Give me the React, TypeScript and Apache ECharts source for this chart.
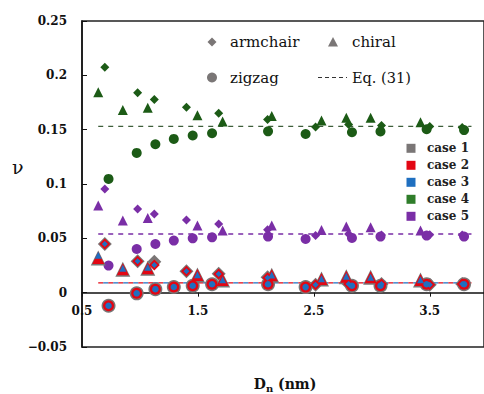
import React, { useEffect, useRef } from "react";
import * as echarts from "echarts";

// Diameters (nm) per structure type
const armchairD = [0.697, 0.98, 1.124, 1.401, 1.679, 2.101, 2.515, 2.8, 3.084, 3.5, 3.78];
const chiralD = [0.64, 0.852, 1.067, 1.496, 1.713, 2.137, 2.566, 2.78, 2.99, 3.42];
const zigzagD = [0.729, 0.972, 1.133, 1.292, 1.455, 1.622, 2.105, 2.429, 2.829, 3.075, 3.473, 3.796];

// Poisson's ratio values per case
const case1Armchair = [0.0448, 0.029, 0.0285, 0.0196, 0.0175, 0.0141, 0.0074, 0.008, 0.008, 0.0074, 0.008];
const case2Armchair = [0.0448, 0.0288, 0.0255, 0.0196, 0.0172, 0.0138, 0.0074, 0.008, 0.008, 0.0074, 0.008];
const case3Armchair = [0.0448, 0.0288, 0.0255, 0.0196, 0.0172, 0.0138, 0.0074, 0.008, 0.008, 0.0074, 0.008];
const case4Armchair = [0.2075, 0.1839, 0.1777, 0.1706, 0.1651, 0.1593, 0.1524, 0.1547, 0.1538, 0.1529, 0.152];
const case5Armchair = [0.0955, 0.0771, 0.0725, 0.0669, 0.0633, 0.058, 0.0525, 0.054, 0.053, 0.0534, 0.053];

const case1Chiral = [0.032, 0.0215, 0.0225, 0.0163, 0.0117, 0.016, 0.0126, 0.0147, 0.0141, 0.0117];
const case2Chiral = [0.032, 0.0215, 0.0225, 0.0163, 0.0117, 0.016, 0.0126, 0.0147, 0.0141, 0.0117];
const case3Chiral = [0.0345, 0.0225, 0.0235, 0.0166, 0.012, 0.0163, 0.0128, 0.015, 0.0143, 0.012];
const case4Chiral = [0.1844, 0.1682, 0.1701, 0.1633, 0.1575, 0.1625, 0.1584, 0.1609, 0.1609, 0.1568];
const case5Chiral = [0.0801, 0.0663, 0.0688, 0.0617, 0.0571, 0.0617, 0.0577, 0.0608, 0.0601, 0.0571];

const case1Zigzag = [-0.012, -0.0006, 0.0032, 0.0052, 0.0064, 0.0078, 0.0078, 0.0051, 0.0064, 0.0064, 0.0078, 0.0078];
const case2Zigzag = [-0.012, -0.0006, 0.0032, 0.0052, 0.0064, 0.0078, 0.0078, 0.0051, 0.0064, 0.0064, 0.0078, 0.0078];
const case3Zigzag = [-0.012, -0.0006, 0.0032, 0.0052, 0.0064, 0.0078, 0.0078, 0.0051, 0.0064, 0.0064, 0.0078, 0.0078];
const case4Zigzag = [0.1047, 0.1286, 0.1366, 0.1415, 0.1446, 0.1467, 0.1485, 0.146, 0.1476, 0.1483, 0.1504, 0.1496];
const case5Zigzag = [0.0249, 0.0402, 0.0448, 0.0479, 0.05, 0.0509, 0.0516, 0.0494, 0.0504, 0.0516, 0.0525, 0.0516];

// Eq. (31) levels
const eqRange = [0.64, 3.86];
const eqCase4 = 0.153;
const eqCase5 = 0.054;
const eqCase123 = 0.009;

const caseNames = ["case 1", "case 2", "case 3", "case 4", "case 5"];
const yTicks = { min: -0.05, max: 0.25, interval: 0.05 };

const GRAY = "#7a7676";
const RED = "#e30613";
const BLUE = "#1f6fc0";
const GREEN = "#1c5b16";
const GREEN_LEG = "#2f7d2a";
const PURPLE = "#7a2ea6";
const SERIF = "DejaVu Serif";

const GRID = { left: 82, top: 21, right: -2, bottom: 47 };

const zip = (xs: number[], ys: number[]) => xs.map((x, i) => [x, ys[i]]);

function scatter(name: string, xs: number[], ys: number[], symbol: string, size: number, color: string, z: number) {
  return {
    name,
    type: "scatter",
    data: zip(xs, ys),
    symbol,
    symbolSize: size,
    itemStyle: { color, opacity: 1 },
    z,
    silent: true,
  };
}

function eqLine(v: number, color: string, dashOffset = 0) {
  return {
    type: "line",
    data: [[eqRange[0], v], [eqRange[1], v]],
    symbol: "none",
    lineStyle: { color, width: 1.3, type: [5, 5], dashOffset },
    z: 1,
    silent: true,
  };
}

const txt = (text: string, x: number, y: number, size: number, weight = "normal", fill = "#111") => ({
  type: "text",
  x,
  y,
  style: { text, fontFamily: SERIF, fontSize: size, fontWeight: weight, fill, verticalAlign: "middle" },
});

export default function App() {
  const ref = useRef<HTMLDivElement>(null);
  useEffect(() => {
    if (!ref.current) return;
    const chart = echarts.init(ref.current, null, { renderer: "svg" });
    const plotH = 394 - GRID.top - GRID.bottom;
    const zeroOffset = -((0 - yTicks.min) / (yTicks.max - yTicks.min)) * plotH;
    const legendCaseColors = [GRAY, RED, BLUE, GREEN_LEG, PURPLE];
    const graphic: any[] = [
      txt("ν", 12, 167, 19),
      {
        type: "text",
        x: 285,
        y: 384,
        style: {
          text: "{a|D}{b|n}{a| (nm)}",
          align: "center",
          verticalAlign: "middle",
          rich: {
            a: { fontSize: 14, fontFamily: SERIF, fill: "#111", fontWeight: "bold" },
            b: { fontSize: 10, fontFamily: SERIF, fill: "#111", fontWeight: "bold", padding: [8, 0, 0, 0] },
          },
        },
      },
      // structure legend
      { type: "polygon", shape: { points: [[212, 37.5], [216.5, 42], [212, 46.5], [207.5, 42]] }, style: { fill: GRAY } },
      txt("armchair", 230, 42, 15),
      { type: "polygon", shape: { points: [[333, 37], [338, 46.5], [328, 46.5]] }, style: { fill: GRAY } },
      txt("chiral", 352, 42, 15),
      { type: "circle", shape: { cx: 212, cy: 77.5, r: 5 }, style: { fill: GRAY } },
      txt("zigzag", 230, 77.5, 15),
      { type: "line", shape: { x1: 318, y1: 77.5, x2: 347, y2: 77.5 }, style: { stroke: "#333", lineWidth: 1.2, lineDash: [4, 3] } },
      txt("Eq. (31)", 352, 77.5, 14.5),
    ];
    caseNames.forEach((n, i) => {
      const cy = 148.3 + i * 17;
      graphic.push({ type: "rect", shape: { x: 406.5, y: cy - 4.5, width: 9, height: 9 }, style: { fill: legendCaseColors[i] } });
      graphic.push(txt(n, 427, cy, 12, "bold", "#222"));
    });

    const series: any[] = [
      eqLine(eqCase4, "#3d5e3a"),
      eqLine(eqCase5, PURPLE),
      eqLine(eqCase123, RED),
      eqLine(eqCase123, BLUE, 5),
      scatter("case 4 armchair", armchairD, case4Armchair, "diamond", 9, GREEN, 3),
      scatter("case 4 chiral", chiralD, case4Chiral, "triangle", 10, GREEN, 3),
      scatter("case 4 zigzag", zigzagD, case4Zigzag, "circle", 10, GREEN, 3),
      scatter("case 5 armchair", armchairD, case5Armchair, "diamond", 9, PURPLE, 3),
      scatter("case 5 chiral", chiralD, case5Chiral, "triangle", 10, PURPLE, 3),
      scatter("case 5 zigzag", zigzagD, case5Zigzag, "circle", 10, PURPLE, 3),
      scatter("case 1 armchair", armchairD, case1Armchair, "diamond", 14, GRAY, 4),
      scatter("case 1 chiral", chiralD, case1Chiral, "triangle", 15, GRAY, 4),
      scatter("case 1 zigzag", zigzagD, case1Zigzag, "circle", 14, GRAY, 4),
      scatter("case 2 armchair", armchairD, case2Armchair, "diamond", 11, RED, 5),
      scatter("case 2 chiral", chiralD, case2Chiral, "triangle", 12, RED, 5),
      scatter("case 2 zigzag", zigzagD, case2Zigzag, "circle", 11, RED, 5),
      scatter("case 3 armchair", armchairD, case3Armchair, "diamond", 6, BLUE, 6),
      scatter("case 3 chiral", chiralD, case3Chiral, "triangle", 7, BLUE, 6),
      scatter("case 3 zigzag", zigzagD, case3Zigzag, "circle", 6.5, BLUE, 6),
    ];

    chart.setOption({
      animation: false,
      grid: { ...GRID, show: true, borderColor: "#222", borderWidth: 1.5, backgroundColor: "transparent" },
      xAxis: {
        type: "value",
        min: 0.5,
        max: 3.968,
        interval: 1,
        offset: zeroOffset,
        splitLine: { show: false },
        axisLine: { onZero: false, lineStyle: { color: "#111", width: 1.5 } },
        axisTick: { show: true, inside: false, length: 4, lineStyle: { color: "#111" } },
        axisLabel: { showMaxLabel: false, margin: 12, color: "#111", fontFamily: SERIF, fontSize: 12, fontWeight: "bold" },
      },
      yAxis: {
        type: "value",
        min: yTicks.min,
        max: yTicks.max,
        interval: yTicks.interval,
        splitLine: { show: false },
        axisLine: { show: true, onZero: false, lineStyle: { color: "#111", width: 1.5 } },
        axisTick: { show: true, inside: true, length: 5, lineStyle: { color: "#111" } },
        axisLabel: {
          margin: 15,
          color: "#111",
          fontFamily: SERIF,
          fontSize: 12,
          fontWeight: "bold",
          formatter: (v: number) => {
            const r = Number(v.toFixed(2));
            if (r === 0) return "0";
            return r < 0 ? "\u2212" + String(-r) : String(r);
          },
        },
      },
      graphic,
      series,
    });
    return () => chart.dispose();
  }, []);
  return <div ref={ref} style={{ width: 484, height: 394, position: "absolute", left: 0, top: 0 }} />;
}
